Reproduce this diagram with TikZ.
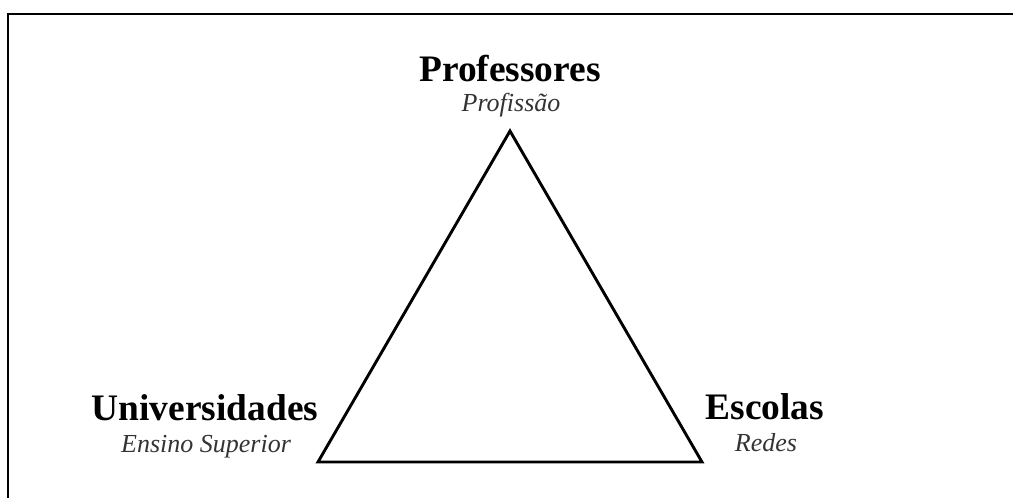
\documentclass[tikz,border=0pt]{standalone}
\usepackage{fontspec}
\setmainfont{Liberation Serif}
\usetikzlibrary{positioning}

\begin{document}
\begin{tikzpicture}[x=0.5pt, y=-0.5pt, line join=miter]
   \tikzset{
     title/.style={anchor=base, inner sep=0pt, font=\fontsize{18.7}{20}\selectfont\bfseries},
     sub/.style={anchor=base, inner sep=0pt, text=black!80, font=\fontsize{13}{15}\selectfont\itshape},
     side/.style={draw=black, line width=1.45pt}
   }
   \useasboundingbox (0,0) rectangle (1013,498);
   % frame
   \draw [line width=1pt] (8,498) -- (8,14) -- (1013,14);
   % corners
   \coordinate (prof) at (510,131);
   \coordinate (univ) at (318,462);
   \coordinate (esc)  at (702,462);
   \draw [side] (prof) -- (esc) -- (univ) -- cycle;
   % labels
   \node (tprof) [title] at (510,82) {Professores};
   \node (sprof) [sub]   at (511,112) {Profissão};
   \node (tuniv) [title] at (205,420) {Universidades};
   \node (suniv) [sub]   at (206,452) {Ensino Superior};
   \node (tesc)  [title] at (765,419) {Escolas};
   \node (sesc)  [sub]   at (766,451) {Redes};
\end{tikzpicture}
\end{document}
